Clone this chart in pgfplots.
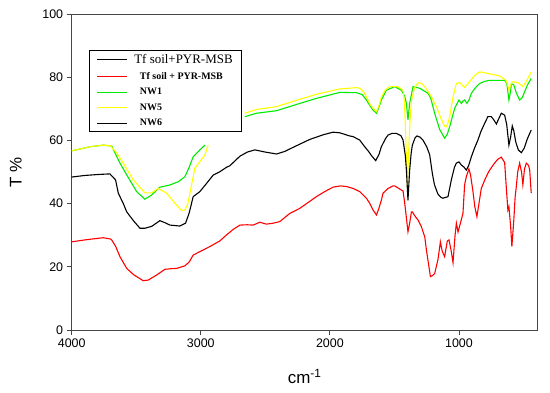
\documentclass[border=0pt]{standalone}
\usepackage{fontspec}
\setmainfont{Liberation Sans}
\newfontfamily\seriffont{Liberation Serif}
\usepackage{pgfplots}
\pgfplotsset{compat=1.18}
\definecolor{ngreen}{RGB}{0,235,0}
\definecolor{nyellow}{RGB}{255,255,0}
\definecolor{axgray}{RGB}{70,70,70}
\begin{document}
\begin{tikzpicture}
\path[use as bounding box] (-71.7bp,-63bp) rectangle (478.3bp,330bp);
\begin{axis}[
  width=466bp, height=316bp, scale only axis,
  x dir=reverse, xmin=390, xmax=4000, ymin=0, ymax=100,
  xtick={1000,2000,3000,4000}, ytick={0,20,...,100},
  tick align=outside, major tick length=5bp,
  xtick pos=bottom, ytick pos=left,
  axis line style={axgray, line width=0.8bp},
  tick style={axgray, line width=0.8bp},
  /pgf/number format/assume math mode=true,
  /pgf/number format/1000 sep={},
  ticklabel style={font=\fontsize{12.5}{14}\selectfont},
  xlabel={cm\textsuperscript{-1}}, ylabel={T \%},
  label style={font=\fontsize{17}{20}\selectfont},
  xlabel style={at={(axis description cs:0.5,-0.1687)}, anchor=base},
  ylabel style={at={(axis description cs:-0.1202,0.5)}, anchor=center},
  legend style={at={(axis description cs:0.0378,0.886)}, anchor=north west,
    draw=black, fill=white, line width=0.8bp, inner xsep=7bp, inner ysep=2bp,
    row sep=3.4bp, column sep=4.5bp},
  legend cell align=left,
  legend image code/.code={\draw[#1] (0bp,0bp) -- (30bp,0bp);},
]
\addlegendimage{black, line width=1.1bp}
\addlegendentry{\seriffont\fontsize{13}{15}\selectfont Tf soil+PYR-MSB}
\addlegendimage{red, line width=1.1bp}
\addlegendentry{\seriffont\bfseries\fontsize{10}{12}\selectfont\hspace{5.7bp}Tf soil + PYR-MSB}
\addlegendimage{ngreen, line width=1.1bp}
\addlegendentry{\seriffont\bfseries\fontsize{10}{12}\selectfont\hspace{5.7bp}NW1}
\addlegendimage{nyellow, line width=1.1bp}
\addlegendentry{\seriffont\bfseries\fontsize{10}{12}\selectfont\hspace{5.7bp}NW5}
\addlegendimage{black, line width=1.1bp}
\addlegendentry{\seriffont\bfseries\fontsize{10}{12}\selectfont\hspace{5.7bp}NW6}

% NW1 (green)
\addplot[ngreen, line width=1.1bp, mark=none, forget plot] coordinates {
(4000,56.7) (3900,57.6) (3858,58.0) (3755,58.5) (3690,58.2) (3626,52.8) (3574,49.1)
(3497,43.8) (3433,41.4) (3381,42.7) (3317,45.2) (3239,45.9) (3175,46.9) (3123,48.5)
(3090,51.5) (3059,54.8) (3007,57.0) (2968,58.5)};
\addplot[ngreen, line width=1.1bp, mark=none, forget plot] coordinates {
(2659,67.5) (2568,68.6) (2413,69.4) (2233,71.7) (2104,73.3) (1923,75.2) (1794,75.1)
(1750,74.5) (1717,72.8) (1690,71.0) (1666,69.6) (1639,68.6) (1620,70.5) (1601,72.8)
(1562,75.9) (1498,77.0) (1446,75.9) (1420,74.0) (1407,71.7) (1395,66.5) (1382,71.7)
(1356,77.0) (1304,76.5) (1240,74.9) (1220,73.5) (1188,68.6) (1150,63.5) (1111,60.7)
(1090,62.0) (1072,64.3) (1033,70.2) (1000,72.8) (981,71.7) (968,72.5) (956,72.8)
(938,71.7) (920,73.0) (904,74.9) (870,76.8) (840,78.0) (800,78.7) (762,79.0)
(700,79.0) (646,79.0) (629,78.0) (613,72.8) (600,75.5) (594,78.0) (575,77.5)
(555,75.0) (530,72.8) (510,73.5) (491,75.4) (470,77.5) (440,79.6)};

% NW5 (yellow)
\addplot[nyellow, line width=1.1bp, mark=none, forget plot] coordinates {
(4000,56.7) (3900,57.6) (3858,58.0) (3755,58.5) (3700,58.3) (3650,56.0) (3600,52.8)
(3523,47.5) (3433,43.4) (3381,43.4) (3330,44.8) (3265,43.3) (3200,40.1) (3149,37.8)
(3123,38.0) (3100,40.0) (3084,43.3) (3046,51.2) (3007,53.3) (2968,55.4) (2943,58.5)};
\addplot[nyellow, line width=1.1bp, mark=none, forget plot] coordinates {
(2659,68.6) (2568,69.8) (2413,70.7) (2233,73.0) (2104,74.6) (1923,76.3) (1794,76.7)
(1769,76.5) (1740,75.5) (1717,73.8) (1690,71.5) (1666,70.2) (1639,69.1) (1620,71.0)
(1601,73.8) (1570,76.0) (1536,77.0) (1472,77.0) (1433,75.9) (1422,72.0) (1415,64.3)
(1400,45.3) (1387,59.1) (1378,67.0) (1368,72.8) (1345,76.5) (1317,78.3) (1290,78.0)
(1265,77.0) (1240,75.5) (1214,73.8) (1175,70.7) (1140,67.0) (1111,64.5) (1098,64.3)
(1085,65.5) (1072,67.5) (1045,74.0) (1020,78.0) (994,78.3) (975,77.5) (956,76.8)
(935,77.8) (917,78.6) (880,80.5) (840,81.7) (800,81.4) (776,81.2) (730,80.8)
(685,80.4) (639,79.1) (625,78.0) (613,75.9) (600,77.5) (587,78.6) (544,78.3)
(520,77.5) (505,77.0) (485,78.3) (466,79.6) (440,81.7)};

% Tf soil+PYR-MSB (black)
\addplot[black, line width=1.1bp, mark=none, forget plot] coordinates {
(4000,48.4) (3900,48.9) (3800,49.2) (3704,49.4) (3660,47.5) (3639,43.3) (3600,40.0)
(3574,37.4) (3520,34.5) (3471,32.2) (3433,32.2) (3380,32.8) (3317,34.6) (3280,34.0)
(3239,33.2) (3162,32.9) (3118,33.8) (3090,37.0) (3059,42.2) (3007,43.8) (2955,46.4)
(2904,49.0) (2852,50.1) (2800,51.5) (2774,52.0) (2697,55.0) (2640,56.3) (2581,57.0)
(2500,56.3) (2413,55.7) (2350,56.5) (2285,57.8) (2156,60.3) (2050,61.8) (1975,62.6)
(1923,62.4) (1846,61.4) (1820,61.2) (1769,60.1) (1730,58.0) (1700,56.5) (1678,55.2)
(1645,53.6) (1620,55.5) (1601,58.0) (1570,60.5) (1549,61.7) (1520,62.2) (1484,62.2)
(1450,61.5) (1433,60.1) (1415,55.0) (1407,50.6) (1395,41.0) (1382,50.6) (1370,56.0)
(1361,58.5) (1340,60.8) (1325,61.4) (1300,61.0) (1279,60.1) (1250,58.0) (1227,55.5)
(1206,49.5) (1190,46.0) (1163,43.0) (1140,42.0) (1124,41.7) (1085,42.2) (1059,47.5)
(1035,51.5) (1020,52.8) (1000,53.2) (981,52.2) (960,51.5) (943,50.6) (925,52.0)
(904,54.8) (880,57.5) (853,60.1) (830,62.8) (801,65.4) (776,67.5) (749,67.5)
(730,66.5) (710,65.2) (690,67.0) (672,68.6) (646,68.0) (630,65.0) (613,58.5)
(600,61.0) (587,64.6) (575,63.0) (560,59.5) (540,57.0) (517,56.1) (495,57.5)
(470,60.5) (440,63.3)};

% Tf soil + PYR-MSB (red)
\addplot[red, line width=1.1bp, mark=none, forget plot] coordinates {
(4000,27.9) (3900,28.5) (3800,29.0) (3755,29.2) (3700,28.8) (3690,28.5) (3660,26.5)
(3626,23.2) (3574,19.5) (3520,17.5) (3446,15.6) (3407,15.8) (3342,17.4) (3278,19.2)
(3230,19.4) (3187,19.5) (3123,20.3) (3090,21.5) (3059,23.7) (3007,24.8) (2930,26.4)
(2852,28.2) (2800,30.1) (2750,31.8) (2697,33.2) (2640,33.3) (2594,33.2) (2543,34.1)
(2491,33.5) (2440,33.8) (2388,34.3) (2310,36.9) (2233,38.5) (2104,42.2) (2040,43.8)
(1975,45.2) (1920,45.6) (1871,45.4) (1820,44.8) (1769,43.8) (1717,41.7) (1691,40.1)
(1666,38.0) (1639,36.4) (1620,38.5) (1601,41.1) (1588,43.3) (1549,44.8) (1511,45.6)
(1498,45.6) (1446,44.3) (1433,44.0) (1420,40.1) (1395,31.1) (1382,33.8) (1368,37.4)
(1361,37.4) (1340,36.0) (1317,34.8) (1291,32.7) (1265,29.5) (1252,25.3) (1221,16.9)
(1205,17.2) (1188,17.9) (1163,22.2) (1150,26.0) (1144,27.9) (1130,25.0) (1111,23.2)
(1090,28.2) (1077,28.5) (1060,25.0) (1046,21.3) (1030,30.0) (1020,33.8) (1007,31.0)
(994,33.0) (981,35.0) (969,36.9) (956,46.0) (943,48.5) (923,51.0) (910,49.0)
(892,44.0) (877,39.0) (861,35.9) (845,40.0) (827,44.8) (800,47.5) (776,49.6)
(762,50.6) (730,52.5) (700,54.0) (672,54.7) (646,53.0) (633,45.0) (621,38.0)
(613,39.0) (600,33.0) (590,26.4) (575,34.8) (565,42.0) (556,45.3) (545,50.0)
(530,52.8) (515,50.0) (505,46.0) (492,51.0) (478,52.8) (460,52.0) (452,50.6)
(440,43.3)};
\end{axis}
\end{tikzpicture}
\end{document}
